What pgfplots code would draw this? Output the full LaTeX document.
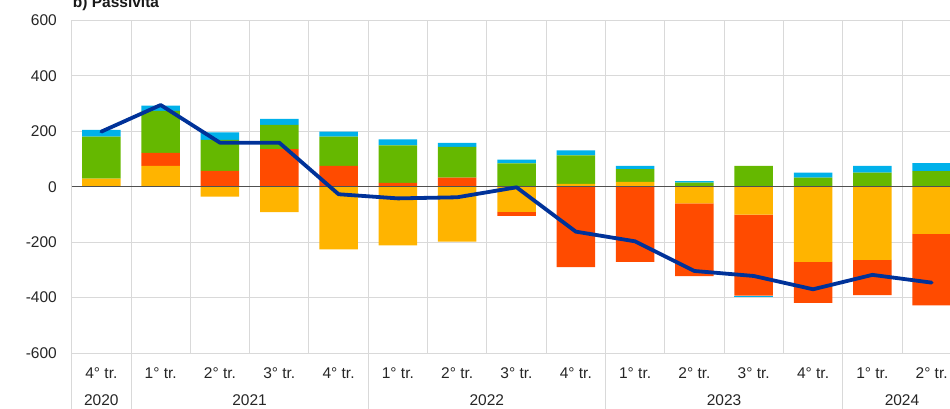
\documentclass[border=0pt]{standalone}
\usepackage{pgfplots}
\pgfplotsset{compat=1.18}
\usepackage{fontspec}
\setmainfont{Liberation Sans}
\definecolor{ecbYellow}{HTML}{FFB400}
\definecolor{ecbRed}{HTML}{FF4B00}
\definecolor{ecbGreen}{HTML}{65B800}
\definecolor{ecbLightBlue}{HTML}{00B1EA}
\definecolor{ecbBlue}{HTML}{003299}
\definecolor{gridgray}{HTML}{D9D9D9}
\definecolor{zerogray}{HTML}{505050}
\newcommand{\lblfont}{\fontsize{15.5}{18}\selectfont}
\pgfplotsset{
  base/.style={
    scale only axis, width=889.6pt, height=332.5pt,
    at={(71.7pt,55pt)}, anchor=south west,
    xmin=-0.5, xmax=14.5, ymin=-600, ymax=600,
    enlargelimits=false, clip=false,
  },
}
\begin{document}
\begin{tikzpicture}
\useasboundingbox (0pt,0pt) rectangle (950pt,408pt);
\clip (0pt,0pt) rectangle (950pt,408pt);
% positive parts
\begin{axis}[base, ybar stacked, bar width=38.5pt,
  xtick={0,...,14},
  xticklabels={4° tr.,1° tr.,2° tr.,3° tr.,4° tr.,1° tr.,2° tr.,3° tr.,4° tr.,1° tr.,2° tr.,3° tr.,4° tr.,1° tr.,2° tr.},
  minor xtick={0.5,1.5,...,13.5},
  ytick={-600,-400,-200,0,200,400,600},
  yticklabels={-600,-400,-200,0,200,400,600},
  ymajorgrids, xminorgrids, xmajorgrids=false,
  grid style={draw=gridgray, line width=1pt},
  minor grid style={draw=gridgray, line width=1pt},
  major tick length=0pt, minor tick length=0pt,
  axis line style={draw=none},
  tick label style={font=\lblfont, text=black!85},
  xticklabel style={anchor=base, inner sep=0pt, yshift=-25pt},
  yticklabel style={anchor=east, inner sep=0pt, xshift=-14.7pt},
]
\addplot[fill=ecbYellow, draw=none] coordinates {(0,29) (1,75) (2,0) (3,0) (4,0) (5,0) (6,0) (7,0) (8,10) (9,18) (10,0) (11,0) (12,0) (13,0) (14,0)};
\addplot[fill=ecbRed, draw=none] coordinates {(0,0) (1,47) (2,57) (3,136) (4,75) (5,14) (6,33) (7,0) (8,0) (9,0) (10,0) (11,0) (12,0) (13,0) (14,0)};
\addplot[fill=ecbGreen, draw=none] coordinates {(0,152) (1,152) (2,112) (3,87) (4,106) (5,135) (6,111) (7,84) (8,103) (9,46) (10,15) (11,75) (12,33) (13,51) (14,56)};
\addplot[fill=ecbLightBlue, draw=none] coordinates {(0,24) (1,19) (2,27) (3,22) (4,18) (5,22) (6,14) (7,14) (8,18) (9,11) (10,5) (11,0) (12,18) (13,24) (14,29)};
% left axis line and year separators
\draw[gridgray, line width=1pt] (axis cs:-0.5,600) -- (axis cs:-0.5,-600) -- ++(0pt,-60pt);
\draw[gridgray, line width=1pt] (axis cs:0.5,-600) -- ++(0pt,-60pt);
\draw[gridgray, line width=1pt] (axis cs:4.5,-600) -- ++(0pt,-60pt);
\draw[gridgray, line width=1pt] (axis cs:8.5,-600) -- ++(0pt,-60pt);
\draw[gridgray, line width=1pt] (axis cs:12.5,-600) -- ++(0pt,-60pt);
\node[anchor=base, inner sep=0pt, yshift=-52pt, font=\lblfont, text=black!85] at (axis cs:0,-600) {2020};
\node[anchor=base, inner sep=0pt, yshift=-52pt, font=\lblfont, text=black!85] at (axis cs:2.5,-600) {2021};
\node[anchor=base, inner sep=0pt, yshift=-52pt, font=\lblfont, text=black!85] at (axis cs:6.5,-600) {2022};
\node[anchor=base, inner sep=0pt, yshift=-52pt, font=\lblfont, text=black!85] at (axis cs:10.5,-600) {2023};
\node[anchor=base, inner sep=0pt, yshift=-52pt, font=\lblfont, text=black!85] at (axis cs:13.5,-600) {2024};
\end{axis}
% negative parts
\begin{axis}[base, hide axis, ybar stacked, bar width=38.5pt]
\addplot[fill=ecbYellow, draw=none] coordinates {(0,0) (1,0) (2,-36) (3,-92) (4,-226) (5,-212) (6,-198) (7,-91) (8,0) (9,0) (10,-60) (11,-101) (12,-271) (13,-264) (14,-170)};
\addplot[fill=ecbRed, draw=none] coordinates {(0,0) (1,0) (2,0) (3,0) (4,0) (5,0) (6,0) (7,-14) (8,-290) (9,-271) (10,-263) (11,-292) (12,-148) (13,-127) (14,-258)};
\addplot[fill=ecbLightBlue, draw=none] coordinates {(0,0) (1,0) (2,0) (3,0) (4,0) (5,0) (6,0) (7,0) (8,0) (9,0) (10,0) (11,-4) (12,0) (13,0) (14,0)};
\end{axis}
% zero line and total
\begin{axis}[base, hide axis]
\draw[zerogray, line width=1pt] (axis cs:-0.5,0) -- (axis cs:14.5,0);
\addplot[ecbBlue, line width=3.8pt, line join=round, line cap=round, mark=none] coordinates {(0,199) (1,295) (2,159) (3,159) (4,-27) (5,-42) (6,-38) (7,-2) (8,-162) (9,-197) (10,-304) (11,-322) (12,-370) (13,-318) (14,-346)};
\end{axis}
\node[anchor=base west, inner sep=0pt, font=\bfseries\lblfont, text=black!90] at (72.7pt,400.5pt) {b) Passività};
\end{tikzpicture}
\end{document}
